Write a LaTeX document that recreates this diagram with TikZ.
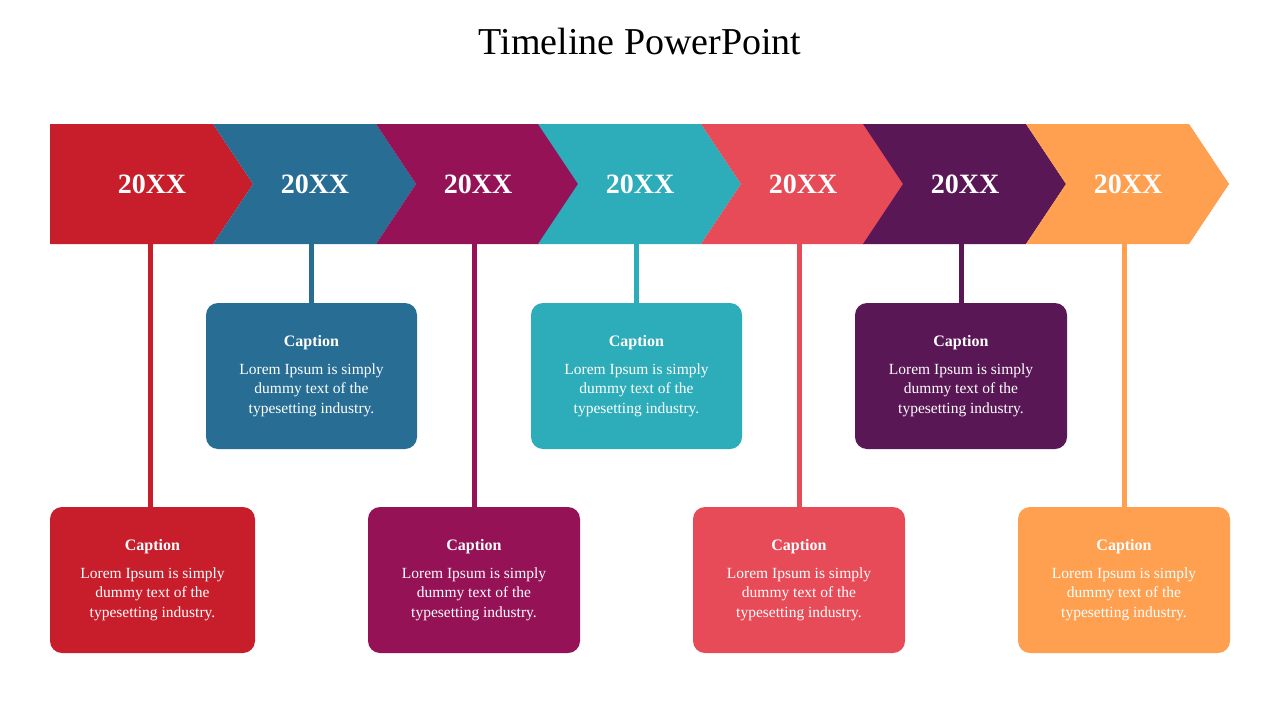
\documentclass[tikz,border=0pt]{standalone}
\usepackage{fontspec}
\setmainfont{Liberation Serif}
\usetikzlibrary{calc}
\definecolor{c1}{HTML}{C81D2B}
\definecolor{c2}{HTML}{276D94}
\definecolor{c3}{HTML}{951257}
\definecolor{c4}{HTML}{2DACB9}
\definecolor{c5}{HTML}{E84B58}
\definecolor{c6}{HTML}{5A1755}
\definecolor{c7}{HTML}{FF9F50}
\begin{document}
\begin{tikzpicture}[x=1pt,y=-1pt,
  yr/.style={text=white,font=\fontsize{28}{30}\selectfont\bfseries},
  cbox/.style={rounded corners=12pt,minimum height=146pt,inner sep=0pt},
  captxt/.style={text=white,font=\fontsize{16}{19}\selectfont\bfseries},
  bodytxt/.style={text=white,align=center,font=\fontsize{15.5}{19.5}\selectfont}]
\useasboundingbox (0,0) rectangle (1280,720);
\node (title) at (640,42) {\fontsize{38}{44}\selectfont Timeline PowerPoint};
\def\xs{{50,213,376,538,701,863,1026}}
\def\lx{{150,311,474,636,799,961,1124}}
\def\bx{{152.5,311.5,474,636.5,799,961,1124}}
\def\bw{{205,211,212,211,212,212,212}}
\foreach \i in {0,...,6}{
  \pgfmathsetmacro\x{\xs[\i]}
  \pgfmathsetmacro\l{\lx[\i]}
  \pgfmathsetmacro\b{\bx[\i]}
  \pgfmathsetmacro\w{\bw[\i]}
  \pgfmathtruncatemacro\n{\i+1}
  \pgfmathtruncatemacro\odd{mod(\i,2)}
  \ifnum\i=0
    \fill[c\n] (\x,124) -- (\x+163,124) -- (\x+203,184) -- (\x+163,244) -- (\x,244) -- cycle;
  \else
    \fill[c\n] (\x,124) -- (\x+163,124) -- (\x+203,184) -- (\x+163,244) -- (\x,244) -- (\x+40,184) -- cycle;
  \fi
  \node[yr] (y\n) at (\x+102,184) {20XX};
  \ifnum\odd=1
    \node[cbox,fill=c\n,minimum width=\w pt] (b\n) at (\b,376) {};
  \else
    \node[cbox,fill=c\n,minimum width=\w pt] (b\n) at (\b,580) {};
  \fi
  \coordinate (t\n) at (\l,244);
  \draw[c\n,line width=5pt] (t\n) -- (t\n|-b\n.north);
  \node[captxt] (k\n) at ($(b\n.north)+(0,40)$) {Caption};
  \node[bodytxt,anchor=north] (m\n) at ($(b\n.north)+(0,57)$) {Lorem Ipsum is simply\\dummy text of the\\typesetting industry.};
}
\end{tikzpicture}
\end{document}
